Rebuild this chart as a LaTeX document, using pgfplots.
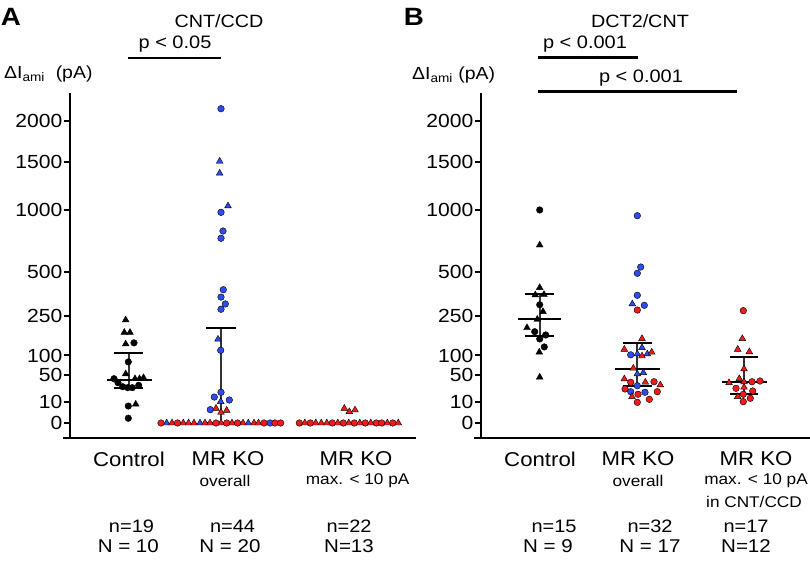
\documentclass[border=0pt]{standalone}
\usepackage{pgfplots}
\pgfplotsset{compat=1.18}
\usepackage{fontspec}
\setmainfont{Liberation Sans}[FakeStretch=1.11]
\definecolor{kblue}{HTML}{2F4CF0}
\definecolor{kred}{HTML}{F21B1B}
\newcommand\fs[1]{\fontsize{#1}{#1}\selectfont}

\pgfplotsset{
  sqrty/.style={
    y coord trafo/.code={\pgfmathparse{((##1)<0 ? -1 : 1)*sqrt(abs(##1))}},
    y coord inv trafo/.code={\pgfmathparse{(##1)*abs(##1)}},
  },
  panel/.style={
    sqrty, scale only axis, anchor=south west, height=345pt,
    ymin=-4.94, ymax=2390,
    axis x line=none, axis y line=left,
    axis line style={line width=2.2pt,-},
    xtick=\empty,
    ytick={0,10,50,100,250,500,1000,1500,2000},
    yticklabels={0,10,50,100,250,500,1000,1500,2000},
    tick align=outside, major tick length=6pt,
    ytick style={line width=2pt,black},
    yticklabel style={font=\fs{19}, inner sep=1.5pt},
    clip=false,
  },
  bc/.style={only marks, mark=*, mark size=3.3pt, mark options={draw=none, fill=kblue}},
  bt/.style={only marks, mark=triangle*, mark size=3.9pt, mark options={draw=none, fill=kblue}},
  rc/.style={only marks, mark=*, mark size=3.3pt, mark options={draw=none, fill=kred}},
  rt/.style={only marks, mark=triangle*, mark size=3.9pt, mark options={draw=none, fill=kred}},
  kc/.style={only marks, mark=*, mark size=3.3pt, mark options={draw=none, fill=black}},
  kt/.style={only marks, mark=triangle*, mark size=3.9pt, mark options={draw=none, fill=black}},
  bar/.style={no marks, black, line width=2pt},
  whisk/.style={no marks, black!80, line width=2pt},
}

\begin{document}
\begin{tikzpicture}
\path[use as bounding box] (0,0) rectangle (810pt,-561pt);

% ---------------- panel A ----------------
\begin{axis}[panel, at={(70pt,-438pt)}, width=346pt, xmin=70, xmax=416]
% Control
\addplot[kt] coordinates {(125.7,233) (124.3,180) (130,180) (125.7,137) (125.7,53)
  (135,43) (139.5,43) (143.5,45) (135.7,7.7)};
\addplot[kc] coordinates {(134,141) (128.3,82) (114,43) (118,35.6) (122.7,28.9)
  (127.7,27.4) (132.3,27.4) (138.7,31.2) (128.3,6.3) (128.3,0.5)};
% MR KO overall
\addplot[bc] coordinates {(221,2168) (221,974) (223,809) (221,749) (223.3,390) (221,348)
  (225.3,311) (221,284) (220.7,116) (221,20.7) (214.3,14.8) (229.3,11.6) (210.3,3.9) (270,0)};
\addplot[bt] coordinates {(219.7,1503) (219.7,1369) (228,1034) (218,154) (220.7,10)
  (166.7,0) (200,0) (248.3,0)};
\addplot[rt] coordinates {(216,4.7) (221,2.5) (226.7,3.5)
  (172,0) (183.3,0) (188.5,0) (194,0) (205,0) (210,0) (221,0) (232,0) (243,0) (254,0) (258.5,0)};
\addplot[rc] coordinates {(161,0) (177.5,0) (216,0) (226.7,0) (237.5,0) (264,0) (275,0) (280.7,0)};
% MR KO max < 10 pA
\addplot[rc] coordinates {(299.3,0) (310.3,0) (332.3,0) (343.3,0) (354.3,0) (365.3,0)
  (376.3,0) (381.8,0) (392.8,0)};
\addplot[rt] coordinates {(304.8,0) (315.8,0) (321.3,0) (326.8,0) (337.8,0) (348.8,0)
  (359.8,0) (370.8,0) (387.3,0) (398.3,0) (344.3,4.7) (349.3,2.8) (355,3.7)};
% median and interquartile bars
\addplot[whisk] coordinates {(128.5,27) (128.5,108.5)};
\addplot[bar] coordinates {(114,108.5) (143,108.5)};
\addplot[bar] coordinates {(106.7,40.6) (151.7,40.6)};
\addplot[bar] coordinates {(114,27) (143,27)};
\addplot[whisk] coordinates {(221,0) (221,198)};
\addplot[bar] coordinates {(206,198) (236,198)};
\addplot[bar, line width=2.6pt] coordinates {(205,0) (242,0)};
\end{axis}

% ---------------- panel B ----------------
\begin{axis}[panel, at={(481pt,-438pt)}, width=329pt, xmin=481, xmax=810]
% Control
\addplot[kc] coordinates {(539.7,996) (539.7,307) (534.7,183) (545.7,170) (539.7,155) (544.3,127)};
\addplot[kt] coordinates {(539.7,695) (539.7,402) (535.3,360) (544,362) (543,272)
  (537.3,236) (527,199) (539.3,110) (539.7,46)};
% MR KO overall
\addplot[bc] coordinates {(637.3,943) (640.7,534) (637.3,492) (637.3,358) (644.3,304)
  (630.7,102) (637.3,30.5) (630.7,21.5) (645,20.7)};
\addplot[bt] coordinates {(632.3,311) (642,124.5) (637.3,104.5) (647.3,104.5)
  (637.3,52.7) (643.3,55.5)};
\addplot[rc] coordinates {(637.3,280) (630.7,36.4) (654,37.4) (625,25.4) (657.3,21.5)
  (638,18.1) (649.3,12.3) (637.3,9.4)};
\addplot[rt] coordinates {(642,156) (624.3,119) (651.7,110) (642,98.5) (633.3,65.7)
  (624.3,42.5) (645.3,36.4) (660.3,31.7) (632,15.2)};
% MR KO max < 10 pA in CNT/CCD
\addplot[rc] coordinates {(743.3,277) (752,37.4) (760,38.7) (736,26.4) (752.7,22.5)
  (743.3,18.1) (750.3,13.4) (743.3,10)};
\addplot[rt] coordinates {(742.3,156) (737.7,119) (749.3,111) (744,64) (739.3,43)
  (729,35.6) (744,37) (744,28) (737.7,15.2)};
% median and interquartile bars
\addplot[whisk] coordinates {(539.5,167) (539.5,367)};
\addplot[bar] coordinates {(525,367) (554,367)};
\addplot[bar] coordinates {(518,237) (561,237)};
\addplot[bar] coordinates {(525,167) (554,167)};
\addplot[whisk] coordinates {(637.3,30.5) (637.3,141.5)};
\addplot[bar] coordinates {(623,141.5) (652,141.5)};
\addplot[bar] coordinates {(615,63) (660,63)};
\addplot[bar] coordinates {(623,30.5) (652,30.5)};
\addplot[whisk] coordinates {(744,18.1) (744,96.5)};
\addplot[bar] coordinates {(730,96.5) (758,96.5)};
\addplot[bar] coordinates {(722,36.4) (767,36.4)};
\addplot[bar] coordinates {(730,18.1) (758,18.1)};
\end{axis}

% x axis lines
\draw[line width=2.6pt] (63pt,-438pt) -- (416pt,-438pt);
\draw[line width=2.6pt] (474pt,-438pt) -- (810pt,-438pt);

% panel letters, titles, significance
\node[font=\fs{25}\bfseries] at (11pt,-17pt) {A};
\node[font=\fs{25}\bfseries] at (414pt,-17pt) {B};
\node[font=\fs{17.8}] at (219pt,-21pt) {CNT/CCD};
\node[font=\fs{17.8}] at (640pt,-21pt) {DCT2/CNT};
\node[font=\fs{18}] at (175pt,-44pt) {p < 0.05};
\draw[line width=2.4pt] (127.7pt,-58.3pt) -- (221pt,-58.3pt);
\node[font=\fs{18}] at (585pt,-44pt) {p < 0.001};
\draw[line width=2.4pt] (538pt,-57.7pt) -- (638pt,-57.7pt);
\node[font=\fs{18}] at (641pt,-78pt) {p < 0.001};
\draw[line width=2.4pt] (538pt,-91.7pt) -- (737pt,-91.7pt);
\node[font=\fs{17.5}, anchor=west, inner sep=0pt] at (4pt,-74pt) {ΔI\textsubscript{ami}\ \ (pA)};
\node[font=\fs{17.5}, anchor=west, inner sep=0pt] at (412pt,-75pt) {ΔI\textsubscript{ami} (pA)};

% category labels
\node[font=\fs{20}] at (129pt,-459pt) {Control};
\node[font=\fs{20}] at (228pt,-459pt) {MR KO};
\node[font=\fs{15.5}] at (225pt,-481pt) {overall};
\node[font=\fs{20}] at (356pt,-459pt) {MR KO};
\node[font=\fs{15.5}] at (357.6pt,-481pt) {max. < 10 pA};
\node[font=\fs{20}] at (540pt,-459pt) {Control};
\node[font=\fs{20}] at (638pt,-459pt) {MR KO};
\node[font=\fs{15.5}] at (638pt,-481pt) {overall};
\node[font=\fs{20}] at (756pt,-459pt) {MR KO};
\node[font=\fs{15.5}] at (756pt,-481pt) {max. < 10 pA};
\node[font=\fs{15.5}] at (754pt,-502pt) {in CNT/CCD};

% sample sizes
\node[font=\fs{18}] at (131.5pt,-526.5pt) {n=19};
\node[font=\fs{18.5}] at (128.3pt,-546pt) {N = 10};
\node[font=\fs{18}] at (232.6pt,-526.5pt) {n=44};
\node[font=\fs{18.5}] at (230pt,-546pt) {N = 20};
\node[font=\fs{18}] at (349pt,-526.5pt) {n=22};
\node[font=\fs{18.5}] at (349pt,-546pt) {N=13};
\node[font=\fs{18}] at (554pt,-526.5pt) {n=15};
\node[font=\fs{18.5}] at (548pt,-546pt) {N = 9};
\node[font=\fs{18}] at (650pt,-526.5pt) {n=32};
\node[font=\fs{18.5}] at (650pt,-546pt) {N = 17};
\node[font=\fs{18}] at (746pt,-526.5pt) {n=17};
\node[font=\fs{18.5}] at (746pt,-546pt) {N=12};
\end{tikzpicture}
\end{document}
